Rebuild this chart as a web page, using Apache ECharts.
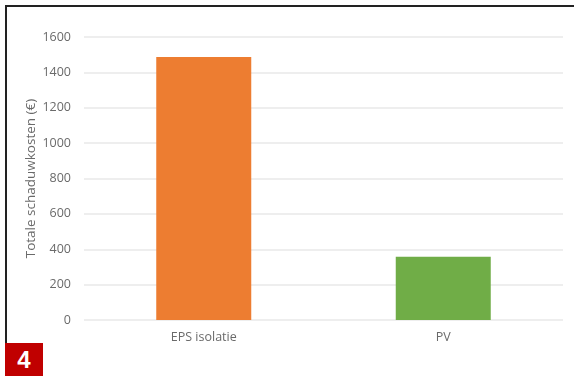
<!DOCTYPE html>
<html>
<head>
<meta charset="utf-8">
<script src="https://cdn.jsdelivr.net/npm/echarts@6/dist/echarts.min.js"></script>
<style>
  html, body { margin: 0; padding: 0; background: #fff; }
  #wrap { position: relative; width: 574px; height: 376px; overflow: hidden; }
  #chart { position: absolute; left: 0; top: 0; width: 574px; height: 376px; }
  #frameTop { position: absolute; left: 5px; top: 5px; width: 569px; height: 2px; background: #222; }
  #frameLeft { position: absolute; left: 5px; top: 5px; width: 2px; height: 338px; background: #222; }
  #badge { position: absolute; left: 5px; top: 343px; width: 38px; height: 33px; background: #c00000;
           color: #fff; font: bold 24px "Liberation Sans", Arial, sans-serif; text-align: center; line-height: 33px; }
</style>
</head>
<body>
<div id="wrap">
  <div id="chart"></div>
  <div id="frameTop"></div>
  <div id="frameLeft"></div>
  <div id="badge">4</div>
</div>
<script>
const categories = ['EPS isolatie', 'PV'];
const values = [1487, 358];
const barColors = ['#ED7D31', '#70AD47'];
const yTicks = { min: 0, max: 1600, interval: 200 };
const yAxisTitle = 'Totale schaduwkosten (€)';

const chart = echarts.init(document.getElementById('chart'), null, { renderer: 'canvas' });
chart.setOption({
  animation: false,
  textStyle: { fontFamily: '"Open Sans", "Noto Sans", sans-serif' },
  grid: { left: 84, right: 11, top: 37, bottom: 56 },
  xAxis: {
    type: 'category',
    data: categories,
    axisLine: { show: false },
    axisTick: { show: false },
    axisLabel: { color: '#6a6a6a', fontSize: 12.5, margin: 11 }
  },
  yAxis: {
    type: 'value',
    min: yTicks.min,
    max: yTicks.max,
    interval: yTicks.interval,
    name: yAxisTitle,
    nameLocation: 'middle',
    nameGap: 46,
    nameMoveOverlap: false,
    nameTextStyle: { color: '#6a6a6a', fontSize: 13.5 },
    axisLine: { show: false },
    axisTick: { show: false },
    axisLabel: { color: '#6a6a6a', fontSize: 12.5, margin: 13, formatter: v => String(v) },
    splitLine: { lineStyle: { color: '#e8e8e8', width: 1.5 } }
  },
  series: [{
    type: 'bar',
    barWidth: 95,
    data: values.map((v, i) => ({ value: v, itemStyle: { color: barColors[i] } }))
  }]
});
</script>
</body>
</html>
